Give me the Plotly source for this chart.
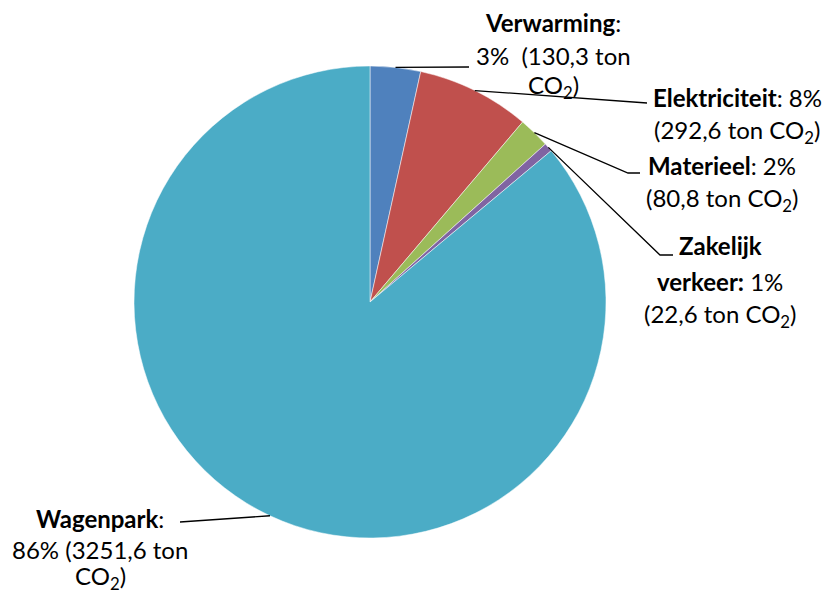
import math
import plotly.graph_objects as go

categories = ["Verwarming", "Elektriciteit", "Materieel", "Zakelijk verkeer", "Wagenpark"]
values = [130.3, 292.6, 80.8, 22.6, 3251.6]
value_labels = ["130,3", "292,6", "80,8", "22,6", "3251,6"]
colors = ["#4F81BD", "#C0504D", "#9BBB59", "#8064A2", "#4BACC6"]

W, H = 827, 593
CX, CY, R = 370, 302, 236
FONT = "Lato"
FS = 24

def px(x):
    return x / W

def py(y):
    return 1 - y / H

total = sum(values)
pcts = [round(v / total * 100) for v in values]

fig = go.Figure(go.Pie(
    labels=categories, values=values, sort=False, direction="clockwise", rotation=0,
    marker=dict(colors=colors, line=dict(color="white", width=0.5)),
    textinfo="none", hoverinfo="label+value+percent", showlegend=False,
    domain=dict(x=[(CX - R) / W, (CX + R) / W], y=[(H - CY - R) / H, (H - CY + R) / H]),
))

# slice mid points on the rim (computed from data)
mids = []
cum = 0
for v in values:
    a = (cum + v / 2) / total * 2 * math.pi
    mids.append((CX + R * math.sin(a), CY - R * math.cos(a)))
    cum += v

# leader line waypoints (label side)
leaders = [
    [(469, 67)],
    [(647, 103)],
    [(628, 173), (640, 173)],
    [(660, 255), (673, 255)],
    [(180, 522)],
]
shapes = []
for (sx, sy), pts in zip(mids, leaders):
    path = f"M {px(sx)} {py(sy)}"
    for x, y in pts:
        path += f" L {px(x)} {py(y)}"
    shapes.append(dict(type="path", xref="paper", yref="paper", path=path,
                       line=dict(color="black", width=1.3)))

co2 = "CO<sub>2</sub>)"
label_lines = [
    [(553, 22, f"<b>{categories[0]}</b>:"),
     (553, 55, f"{pcts[0]}%  ({value_labels[0]} ton"),
     (553, 86, co2)],
    [(737, 97, f"<b>{categories[1]}</b>: {pcts[1]}%"),
     (737, 131, f"({value_labels[1]} ton {co2}")],
    [(722, 165, f"<b>{categories[2]}</b>: {pcts[2]}%"),
     (722, 199, f"({value_labels[2]} ton {co2}")],
    [(720, 245, "<b>Zakelijk</b>"),
     (720, 281, f"<b>verkeer:</b> {pcts[3]}%"),
     (720, 315, f"({value_labels[3]} ton {co2}")],
    [(100, 518, f"<b>{categories[4]}</b>:"),
     (100, 549, f"{pcts[4]}% ({value_labels[4]} ton"),
     (100, 577, co2)],
]
annotations = []
for lines in label_lines:
    for x, y, t in lines:
        annotations.append(dict(x=px(x), y=py(y), xref="paper", yref="paper", text=t,
                                showarrow=False, xanchor="center", yanchor="middle",
                                font=dict(family=FONT, size=FS, color="black")))

fig.update_layout(
    width=W, height=H, margin=dict(l=0, r=0, t=0, b=0),
    paper_bgcolor="white", plot_bgcolor="white",
    shapes=shapes, annotations=annotations,
)
fig.write_html("out.html", config={"displayModeBar": False},
               post_script="document.body.style.margin='0';document.body.style.overflow='hidden';")
